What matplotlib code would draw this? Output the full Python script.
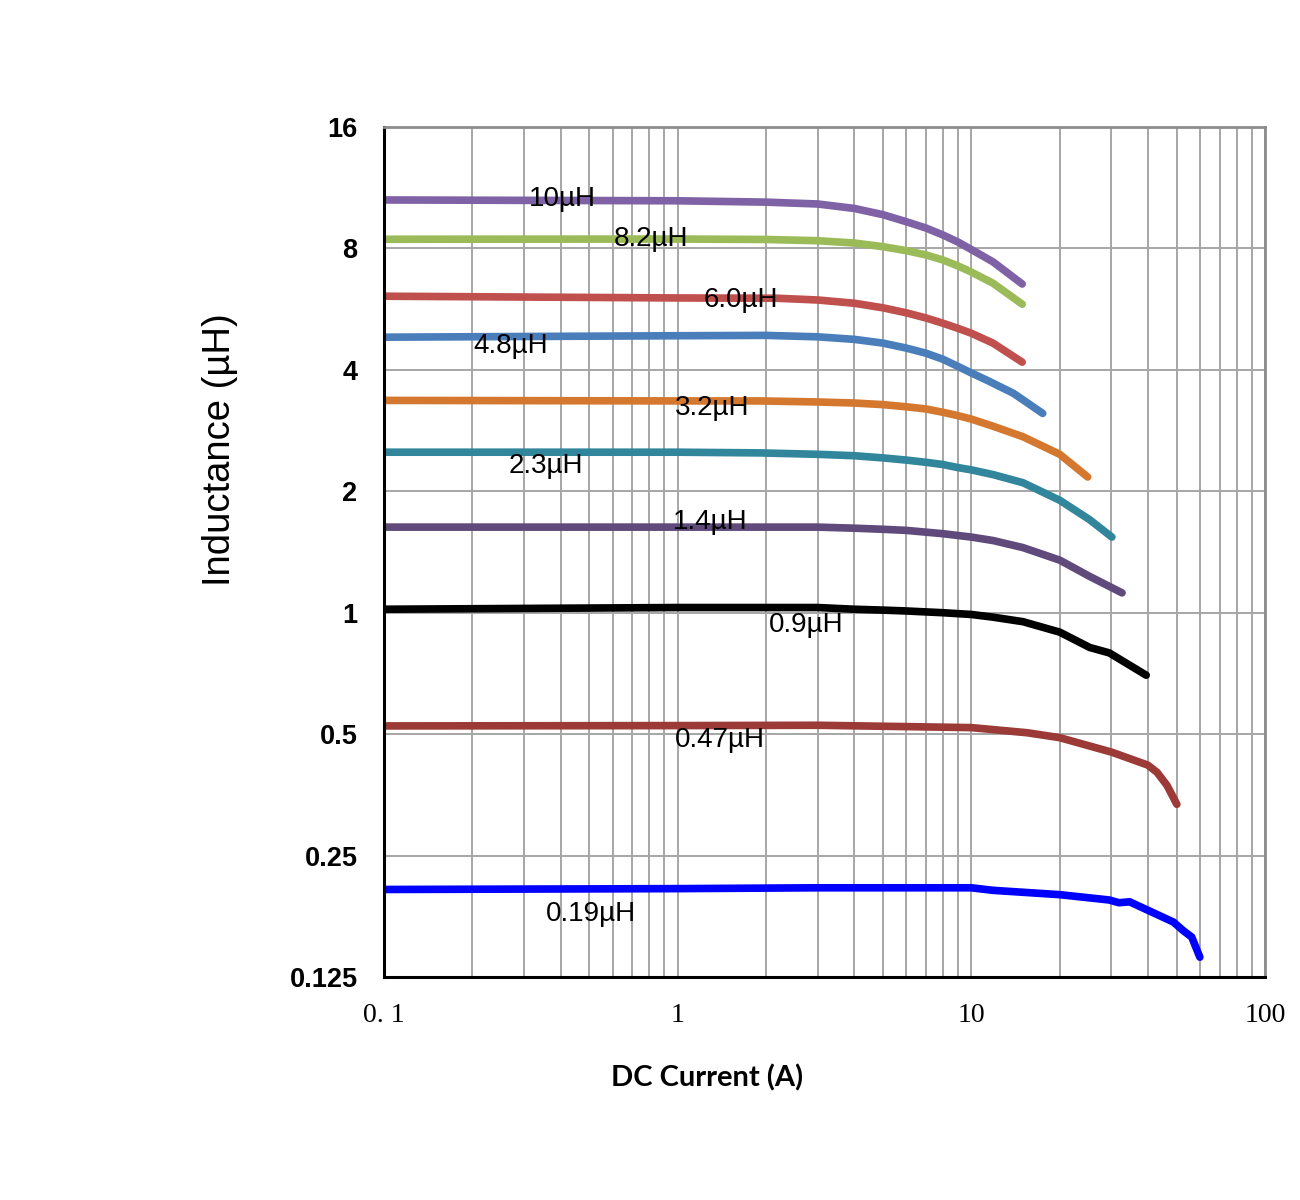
import matplotlib
matplotlib.use("Agg")
import matplotlib.pyplot as plt
from matplotlib.ticker import FixedLocator, NullFormatter, LogLocator

# ---- data ----
x_10 = [0.1, 1.0, 2.0, 3.0, 4.0, 5.0, 6.0, 7.0, 8.0, 9.0, 10.0, 11.85, 14.9]
y_10 = [10.55, 10.5, 10.42, 10.31, 10.05, 9.70, 9.32, 8.99, 8.64, 8.30, 7.95, 7.41, 6.53]

x_82 = [0.1, 1.0, 2.0, 3.0, 4.0, 5.0, 6.0, 7.0, 8.0, 9.0, 10.0, 11.85, 14.9]
y_82 = [8.43, 8.44, 8.42, 8.36, 8.25, 8.08, 7.90, 7.71, 7.49, 7.24, 6.99, 6.56, 5.82]

x_60 = [0.1, 1.0, 2.18, 3.0, 4.0, 5.0, 6.0, 7.0, 8.0, 9.0, 10.0, 11.85, 14.9]
y_60 = [6.09, 6.03, 6.02, 5.96, 5.85, 5.70, 5.54, 5.38, 5.22, 5.07, 4.93, 4.66, 4.18]

x_48 = [0.1, 1.0, 2.0, 3.0, 4.0, 5.0, 6.0, 7.0, 8.0, 9.0, 10.0, 11.3, 13.9, 17.5]
y_48 = [4.82, 4.86, 4.87, 4.83, 4.76, 4.66, 4.53, 4.40, 4.25, 4.08, 3.93, 3.77, 3.50, 3.12]

x_32 = [0.1, 1.0, 1.91, 3.0, 4.0, 5.0, 6.0, 7.0, 8.0, 9.0, 10.0, 11.85, 15.0, 20.0, 24.9]
y_32 = [3.36, 3.35, 3.35, 3.33, 3.31, 3.28, 3.24, 3.20, 3.14, 3.08, 3.02, 2.90, 2.73, 2.47, 2.17]

x_23 = [0.1, 1.0, 1.91, 3.0, 4.0, 5.0, 6.0, 7.0, 8.0, 9.0, 10.0, 11.85, 15.0, 20.0, 25.3, 30.1]
y_23 = [2.50, 2.50, 2.49, 2.47, 2.45, 2.42, 2.39, 2.36, 2.33, 2.29, 2.26, 2.20, 2.10, 1.90, 1.70, 1.54]

x_14 = [0.1, 1.0, 1.91, 3.0, 4.0, 5.0, 6.0, 8.0, 10.0, 11.85, 15.0, 20.0, 25.3, 32.6]
y_14 = [1.63, 1.63, 1.63, 1.63, 1.62, 1.61, 1.60, 1.57, 1.54, 1.51, 1.45, 1.35, 1.23, 1.12]

x_09 = [0.1, 1.0, 1.91, 3.0, 4.0, 5.0, 6.0, 8.0, 10.0, 11.85, 15.0, 20.0, 25.3, 29.5, 39.4]
y_09 = [1.02, 1.03, 1.03, 1.03, 1.02, 1.015, 1.01, 1.00, 0.99, 0.975, 0.95, 0.895, 0.82, 0.795, 0.70]

x_047 = [0.1, 1.0, 3.0, 10.0, 15.5, 20.0, 30.1, 39.9, 42.9, 46.4, 50.1]
y_047 = [0.524, 0.525, 0.526, 0.519, 0.504, 0.490, 0.451, 0.419, 0.402, 0.373, 0.335]

x_019 = [0.1, 1.0, 3.0, 10.0, 11.85, 20.0, 29.5, 31.8, 34.6, 39.9, 48.8, 52.6, 56.3, 60.0]
y_019 = [0.206, 0.207, 0.208, 0.208, 0.205, 0.200, 0.194, 0.191, 0.192, 0.183, 0.171, 0.163, 0.157, 0.140]

series = [
    (x_10, y_10, "#7f62a5"),
    (x_82, y_82, "#9bbb59"),
    (x_60, y_60, "#c0504d"),
    (x_48, y_48, "#4a7ebb"),
    (x_32, y_32, "#d5782f"),
    (x_23, y_23, "#31869c"),
    (x_14, y_14, "#604a7b"),
    (x_09, y_09, "#000000"),
    (x_047, y_047, "#9b3a36"),
    (x_019, y_019, "#0000ff"),
]

label_texts = ["10\u00b5H", "8.2\u00b5H", "6.0\u00b5H", "4.8\u00b5H", "3.2\u00b5H",
               "2.3\u00b5H", "1.4\u00b5H", "0.9\u00b5H", "0.47\u00b5H", "0.19\u00b5H"]
label_x = [0.404, 0.81, 1.64, 0.27, 1.31, 0.356, 1.29, 2.75, 1.39, 0.507]
label_y = [10.6, 8.46, 5.95, 4.58, 3.21, 2.31, 1.68, 0.93, 0.483, 0.179]

y_ticks = [0.125, 0.25, 0.5, 1, 2, 4, 8, 16]
y_tick_labels = ["0.125", "0.25", "0.5", "1", "2", "4", "8", "16"]
x_ticks = [0.1, 1, 10, 100]
x_tick_labels = ["0. 1", "1", "10", "100"]

# ---- figure ----
fig = plt.figure(figsize=(13, 12), dpi=100)
ax = fig.add_axes([384/1300, 1-977/1200, (1265-384)/1300, (977-127)/1200])

ax.set_xscale("log")
ax.set_yscale("log", base=2)
ax.set_xlim(0.1, 100)
ax.set_ylim(0.125, 16)

ax.xaxis.set_minor_locator(LogLocator(base=10, subs=range(2, 10), numticks=20))
ax.xaxis.set_minor_formatter(NullFormatter())
ax.set_xticks(x_ticks)
ax.set_xticklabels(x_tick_labels, family="Liberation Serif", fontsize=20)
ax.set_yticks(y_ticks)
ax.set_yticklabels(y_tick_labels, family="Liberation Sans", fontsize=19.5, fontweight="bold")
ax.yaxis.set_minor_locator(FixedLocator([]))

ax.tick_params(axis="x", which="major", length=0, pad=19)
ax.tick_params(axis="x", which="minor", length=0)
ax.tick_params(axis="y", which="major", length=0, pad=19)

ax.grid(True, which="major", axis="both", color="#a6a6a6", linewidth=1.4)
ax.grid(True, which="minor", axis="x", color="#a6a6a6", linewidth=1.4)
ax.set_axisbelow(True)

for s in ["left", "bottom"]:
    ax.spines[s].set_color("black")
    ax.spines[s].set_linewidth(2.2)
for s in ["top", "right"]:
    ax.spines[s].set_color("#8c8c8c")
    ax.spines[s].set_linewidth(2.0)

for xs, ys, c in series:
    ax.plot(xs, ys, color=c, linewidth=5.5, solid_capstyle="round",
            solid_joinstyle="round")

for t, lx, ly in zip(label_texts, label_x, label_y):
    ax.text(lx, ly, t, ha="center", va="center", fontsize=20,
            family="Liberation Sans", color="black")

fig.text(220/1300, 1-450/1200, "Inductance (\u00b5H)", rotation=90, ha="center", va="center",
         family="Liberation Sans", fontsize=27.5)
fig.text(707/1300, 1-1078/1200, "DC Current (A)", ha="center", va="center",
         family="Lato", fontsize=21, fontweight="bold")

fig.savefig("out.png", dpi=100, facecolor="white")
